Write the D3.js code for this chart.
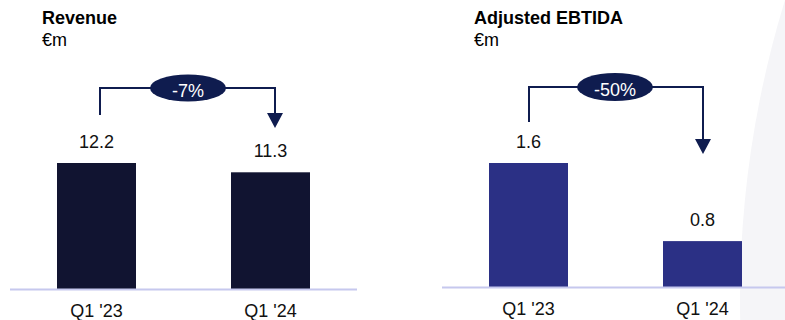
<!DOCTYPE html>
<html><head><meta charset="utf-8">
<script src="https://cdn.jsdelivr.net/npm/d3@7"></script>
<style>body{margin:0;background:#fff}svg{display:block;font-family:"Liberation Sans",Arial,sans-serif}</style>
</head><body>
<script>
const categories = ["Q1 '23", "Q1 '24"];
const revenueValues = [12.2, 11.3];
const ebitdaValues = [1.6, 0.8];
const revenueChange = "-7%";
const ebitdaChange = "-50%";
const titles = ["Revenue", "Adjusted EBTIDA"];
const unit = "€m";

const W = 785, H = 320;
const svg = d3.select("body").append("svg").attr("width", W).attr("height", H);

// faint background arc at right
svg.append("circle").attr("cx", 740 + 1022).attr("cy", 300).attr("r", 1022).attr("fill", "#f5f5f8");

const navy = "#0f1c4f";
const panels = [
  {title: titles[0], values: revenueValues, change: revenueChange, color: "#111431",
   x0: 10, x1: 357, bandL: 57, bandR: 310, base: 289, domain: [0, 12.2], top: 163,
   tx: 42, bx: 100, ax: 275, ay: 128, lineY: 88, ex: 188, ey: 88, rx: 38, ry: 13.5, bTop: 115},
  {title: titles[1], values: ebitdaValues, change: ebitdaChange, color: "#2b3085",
   x0: 442, x1: 785, bandL: 489, bandR: 742, base: 287, domain: [0.33, 1.6], top: 163,
   tx: 474, bx: 529, ax: 703, ay: 154, lineY: 87, ex: 615, ey: 87, rx: 38, ry: 14, bTop: 122}
];

panels.forEach(p => {
  const g = svg.append("g");
  g.append("text").attr("x", p.tx).attr("y", 24).attr("font-size", 18).attr("font-weight", "bold").attr("fill", "#000").text(p.title);
  g.append("text").attr("x", p.tx).attr("y", 46).attr("font-size", 18).attr("fill", "#000").text(unit);

  const x = d3.scaleBand().domain(categories).range([p.bandL, p.bandR]).paddingInner(0.546).paddingOuter(0);
  const y = d3.scaleLinear().domain(p.domain).range([p.base, p.top]);

  g.selectAll("rect.bar").data(p.values).join("rect").attr("class", "bar")
    .attr("x", (d, i) => x(categories[i])).attr("width", x.bandwidth())
    .attr("y", d => y(d)).attr("height", d => p.base - y(d)).attr("fill", p.color);

  g.append("line").attr("x1", p.x0).attr("x2", p.x1).attr("y1", p.base + 0.5).attr("y2", p.base + 0.5)
    .attr("stroke", "#c6c8ee").attr("stroke-width", 2);

  g.selectAll("text.val").data(p.values).join("text").attr("class", "val")
    .attr("x", (d, i) => x(categories[i]) + x.bandwidth() / 2).attr("y", d => y(d) - 15)
    .attr("text-anchor", "middle").attr("font-size", 18).attr("fill", "#111").text(d => d.toFixed(1));

  g.selectAll("text.cat").data(categories).join("text").attr("class", "cat")
    .attr("x", d => x(d) + x.bandwidth() / 2).attr("y", p.base + 28)
    .attr("text-anchor", "middle").attr("font-size", 18).attr("fill", "#111").text(d => d);

  // bracket arrow
  g.append("path").attr("d", `M${p.bx},${p.bTop}V${p.lineY}H${p.ax}V${p.ay - 12}`)
    .attr("fill", "none").attr("stroke", navy).attr("stroke-width", 2);
  g.append("path").attr("d", `M${p.ax - 8},${p.ay - 15}L${p.ax + 8},${p.ay - 15}L${p.ax},${p.ay}Z`).attr("fill", navy);
  g.append("ellipse").attr("cx", p.ex).attr("cy", p.ey).attr("rx", p.rx).attr("ry", p.ry).attr("fill", navy);
  g.append("text").attr("x", p.ex).attr("y", p.ey + 9).attr("text-anchor", "middle")
    .attr("font-size", 18).attr("fill", "#fff").text(p.change);
});
</script>
</body></html>
